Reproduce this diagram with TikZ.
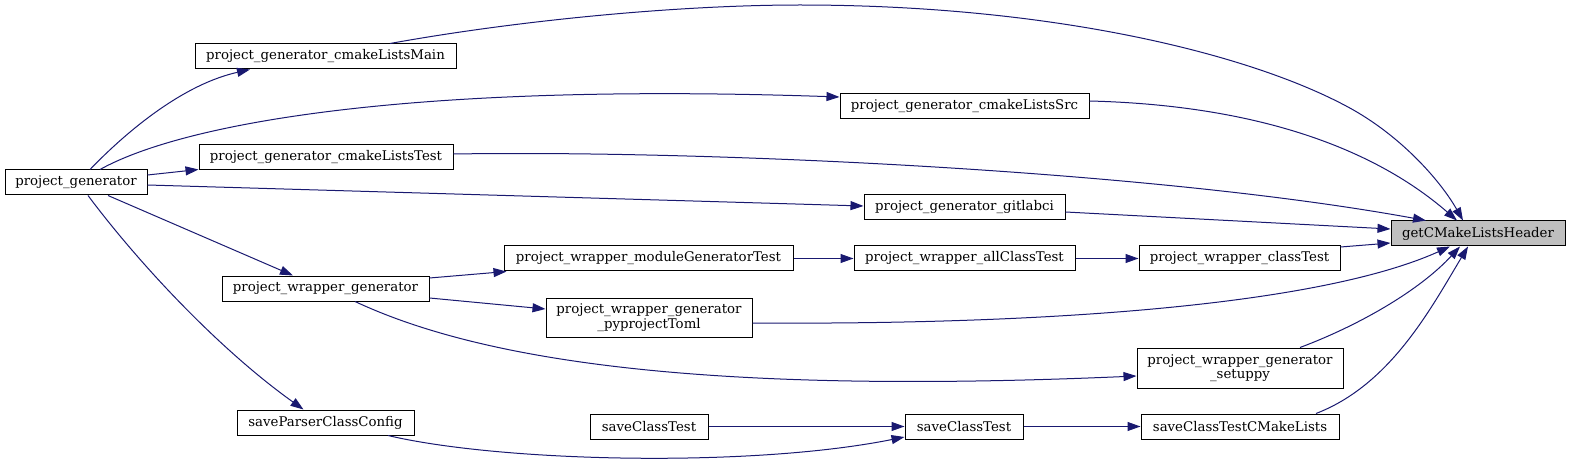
\documentclass[tikz,border=0pt]{standalone}
\usepackage{fontspec}
\setmainfont{DejaVu Serif}
\usetikzlibrary{arrows.meta}
\definecolor{edgec}{HTML}{191970}
\definecolor{hdrfill}{HTML}{BFBFBF}
\begin{document}
\begin{tikzpicture}[x=1pt,y=-1pt,
  fn/.style={draw=black, line width=1pt, inner sep=0pt, fill=white,
    font=\fontsize{13.33}{14.5}\selectfont, minimum height=25pt, align=center},
  call/.style={draw=edgec, line width=1pt, -{Triangle[length=13pt,width=9pt]}},
]
\useasboundingbox (0,0) rectangle (1572,465);

\node[fn, minimum width=142pt] (pg) at (76,182.5) {project\_generator};
\node[fn, minimum width=261pt] (cmMain) at (325.5,56.5) {project\_generator\_cmakeListsMain};
\node[fn, minimum width=254pt] (cmTest) at (326,157.5) {project\_generator\_cmakeListsTest};
\node[fn, minimum width=249pt] (cmSrc) at (964.5,106.5) {project\_generator\_cmakeListsSrc};
\node[fn, minimum width=201pt] (gitlab) at (964.5,207.5) {project\_generator\_gitlabci};
\node[fn, minimum width=174pt, fill=hdrfill] (hdr) at (1478,233.5) {getCMakeListsHeader};
\node[fn, minimum width=207pt] (pwg) at (325.5,288.5) {project\_wrapper\_generator};
\node[fn, minimum width=289pt] (mgt) at (648.5,258.5) {project\_wrapper\_moduleGeneratorTest};
\node[fn, minimum width=221pt] (allCT) at (964.5,258.5) {project\_wrapper\_allClassTest};
\node[fn, minimum width=201pt] (classT) at (1239.5,258.5) {project\_wrapper\_classTest};
\node[fn, minimum width=206pt, minimum height=39pt] (pyproj) at (649,317.5) {project\_wrapper\_generator\\\_pyprojectToml};
\node[fn, minimum width=206pt, minimum height=40pt] (setuppy) at (1240,368) {project\_wrapper\_generator\\\_setuppy};
\node[fn, minimum width=177pt] (spc) at (325.5,422.5) {saveParserClassConfig};
\node[fn, minimum width=118pt] (sct1) at (649,426.5) {saveClassTest};
\node[fn, minimum width=118pt] (sct2) at (964,426.5) {saveClassTest};
\node[fn, minimum width=198pt] (sctcm) at (1240,426.5) {saveClassTestCMakeLists};

% from project_generator
\draw[call] ([xshift=14pt]pg.north) .. controls (130,128) and (185,84) .. ([xshift=-75.5pt]cmMain.south);
\draw[call] ([xshift=24pt]pg.north) .. controls (180,125) and (400,82) .. ([yshift=9.5pt]cmSrc.west);
\draw[call] ([yshift=7.5pt]pg.east) -- ([yshift=1pt]cmTest.south west);
\draw[call] ([yshift=-2.5pt]pg.east) -- ([yshift=1.5pt]gitlab.west);
\draw[call] ([xshift=32pt]pg.south) -- ([xshift=-32.5pt]pwg.north);
\draw[call] ([xshift=12pt]pg.south) .. controls (140,265) and (220,350) .. ([xshift=-22pt]spc.north);

% from project_wrapper_generator
\draw[call] ([yshift=10.5pt]pwg.east) -- ([xshift=3pt]mgt.south west);
\draw[call] ([yshift=-9.5pt]pwg.east) -- ([yshift=8.5pt]pyproj.west);
\draw[call] ([xshift=29.5pt]pwg.south) .. controls (480,360) and (700,395) .. ([yshift=-8pt]setuppy.west);

% chain
\draw[call] (mgt.east) -- (allCT.west);
\draw[call] (allCT.east) -- (classT.west);
\draw[call] ([yshift=11.5pt]classT.east) -- ([yshift=-9.5pt]hdr.west);

% into header
\draw[call] ([xshift=64.5pt]cmMain.north) .. controls (520,20) and (680,5) .. (800,5)
  .. controls (1050,5) and (1248,53) .. (1348,107)
  .. controls (1400,135) and (1440,180) .. ([xshift=-15pt]hdr.north);
\draw[call] ([yshift=5.5pt]cmSrc.east) .. controls (1250,105) and (1370,145) .. ([xshift=-21pt]hdr.north);
\draw[call] ([yshift=3.5pt]cmTest.east) .. controls (700,150) and (1150,170) .. ([xshift=-52pt]hdr.north);
\draw[call] ([yshift=-4.5pt]gitlab.east) -- ([yshift=4.5pt]hdr.west);
\draw[call] ([yshift=-5.5pt]pyproj.east) .. controls (1050,325) and (1320,305) .. ([xshift=-28pt]hdr.south);
\draw[call] ([xshift=60pt]setuppy.north) .. controls (1360,325) and (1420,290) .. ([xshift=-18pt]hdr.south);
\draw[call] ([xshift=76pt]sctcm.north) .. controls (1390,385) and (1430,310) .. ([xshift=-10pt]hdr.south);

% save chain
\draw[call] (sct1.east) -- (sct2.west);
\draw[call] ([xshift=62.5pt]spc.south) .. controls (500,462) and (750,468) .. ([yshift=-10.5pt]sct2.west);
\draw[call] (sct2.east) -- (sctcm.west);
\end{tikzpicture}
\end{document}
